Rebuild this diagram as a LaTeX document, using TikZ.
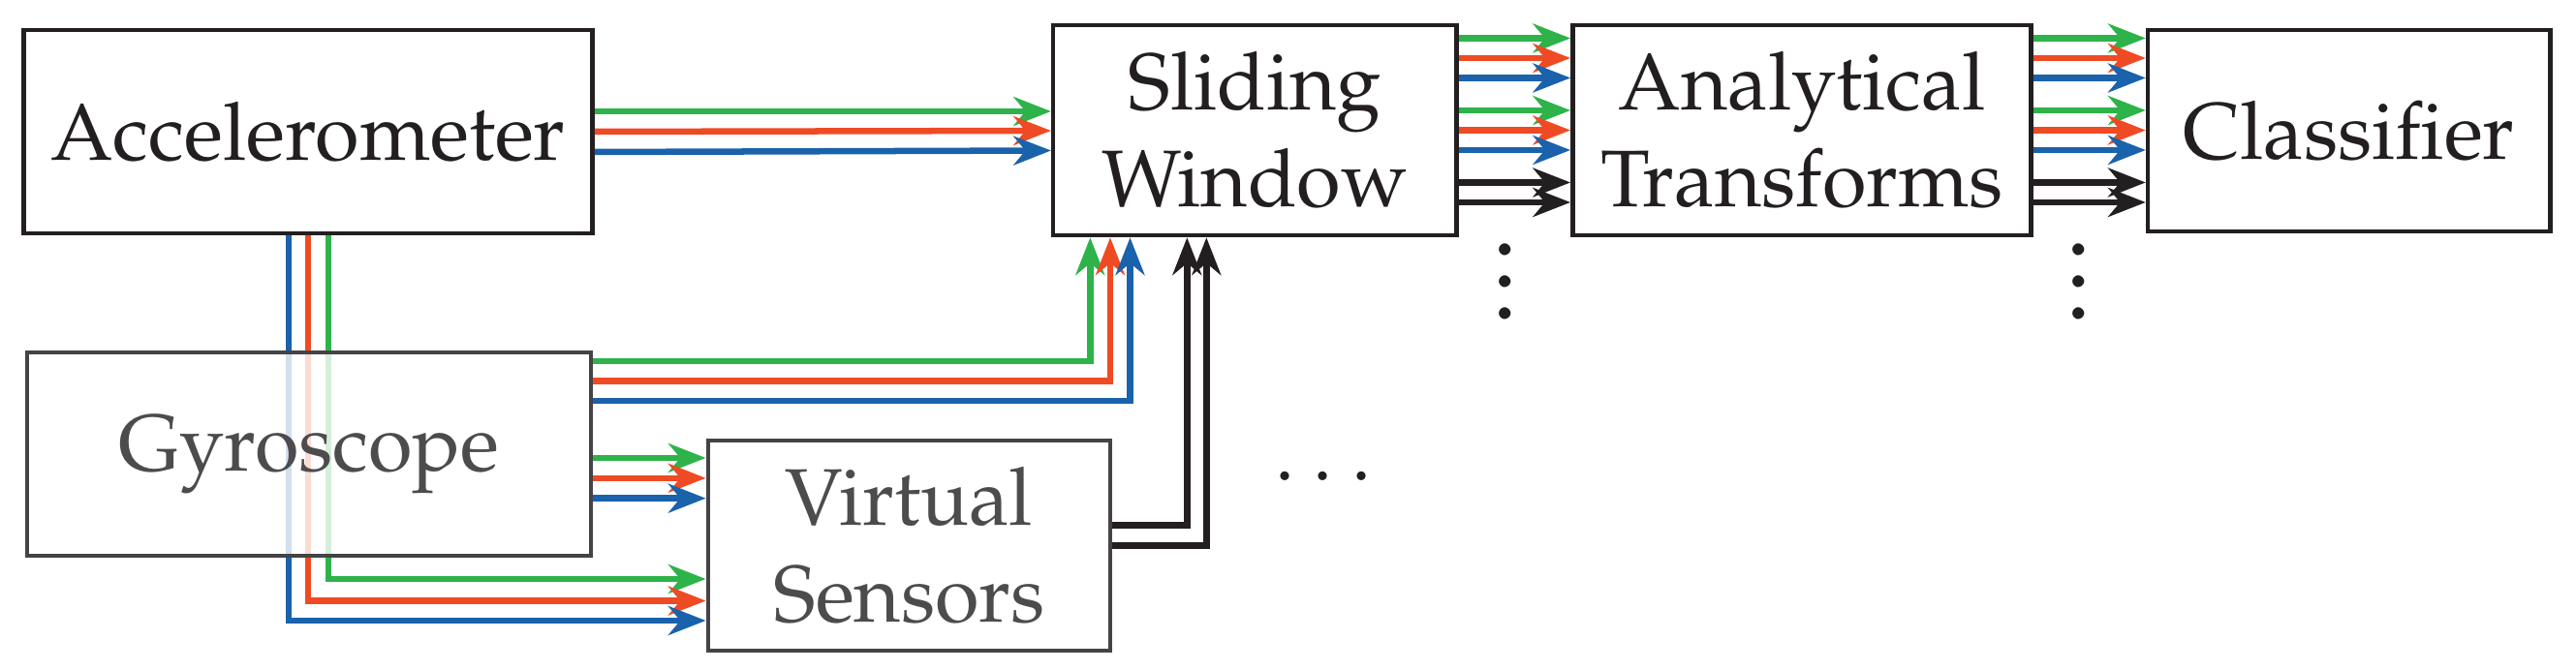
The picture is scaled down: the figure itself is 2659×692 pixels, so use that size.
\documentclass[tikz,border=0pt]{standalone}
\usepackage[T1]{fontenc}
\usepackage{mathpazo}
\usetikzlibrary{arrows.meta,calc}
\definecolor{cg}{HTML}{2DB34A}
\definecolor{cr}{HTML}{EE4B24}
\definecolor{cb}{HTML}{1A62AB}
\definecolor{ck}{HTML}{231F20}
\definecolor{cgy}{HTML}{454345}
\definecolor{cgt}{HTML}{4D4B4D}
\begin{document}
\begin{tikzpicture}[x=0.01cm,y=-0.01cm,
  box/.style={draw=ck,line width=1.3pt,fill=white,inner sep=0pt,align=center,
    font=\fontsize{23.6}{28.5}\selectfont,text=ck},
  gbox/.style={box,draw=cgy,text=cgt,fill opacity=0.8,text opacity=1},
  ln/.style={line width=1.85pt},
  ar/.style={ln,-{Stealth[length=11pt,width=8.5pt,inset=3.5pt]}},
  dt/.style={font=\fontsize{23.6}{28.5}\selectfont,text=ck,inner sep=0pt},
  vdt/.style={align=center,font=\fontsize{30}{9.4}\selectfont,text=ck,inner sep=0pt}]
\useasboundingbox (0,0) rectangle (2659,692);
\node[box,minimum width=5.87cm,minimum height=2.10cm] (acc) at (318,136) {Accelerometer};
\node[box,minimum width=4.16cm,minimum height=2.17cm] (sw) at (1295.3,134.5) {Sliding\\Window};
\node[box,minimum width=4.73cm,minimum height=2.17cm] (at) at (1860,134.5) {Analytical\\Transforms};
\node[box,minimum width=4.15cm,minimum height=2.08cm] (cl) at (2424.7,135) {Classifier};
% accelerometer -> sliding window
\draw[ar,cg] ($(acc.east)+(0,-21)$) -- ($(sw.west)+(0,-19.5)$);
\draw[ar,cr] ($(acc.east)+(0,0)$) -- ($(sw.west)+(0,0.5)$);
\draw[ar,cb] ($(acc.east)+(0,21)$) -- ($(sw.west)+(0,21)$);
% accelerometer down -> virtual sensors (drawn before gyroscope box)
\node[gbox,minimum width=4.15cm,minimum height=2.17cm] (vs) at (938.5,563.5) {Virtual\\Sensors};
\coordinate (a1) at ($(vs.west)+(0,34.5)$);
\coordinate (a2) at ($(vs.west)+(0,57)$);
\coordinate (a3) at ($(vs.west)+(0,77.5)$);
\draw[ar,cg] ($(acc.south)+(21,0)$) |- (a1);
\draw[ar,cr] ($(acc.south)+(0,0)$) |- (a2);
\draw[ar,cb] ($(acc.south)+(-20.2,0)$) |- (a3);
\node[gbox,minimum width=5.82cm,minimum height=2.10cm] (gyr) at (319,469) {Gyroscope};
% gyroscope -> sliding window
\draw[ar,cg] ($(gyr.east)+(0,-96.2)$) -| ($(sw.south)+(-170,0)$);
\draw[ar,cr] ($(gyr.east)+(0,-75.7)$) -| ($(sw.south)+(-149.3,0)$);
\draw[ar,cb] ($(gyr.east)+(0,-55.2)$) -| ($(sw.south)+(-128.8,0)$);
% gyroscope -> virtual sensors
\coordinate (g1) at ($(vs.west)+(0,-90.5)$);
\coordinate (g2) at ($(vs.west)+(0,-69.7)$);
\coordinate (g3) at ($(vs.west)+(0,-48.8)$);
\draw[ar,cg] (gyr.east |- g1) -- (g1);
\draw[ar,cr] (gyr.east |- g2) -- (g2);
\draw[ar,cb] (gyr.east |- g3) -- (g3);
% virtual sensors -> sliding window
\draw[ar,ck] ($(vs.east)+(0,-21.2)$) -| ($(sw.south)+(-70,0)$);
\draw[ar,ck] ($(vs.east)+(0,0)$) -| ($(sw.south)+(-50,0)$);
% sliding window -> analytical, analytical -> classifier
\foreach \o/\c in {-95/cg,-74.5/cr,-54/cb,-20.5/cg,0/cr,20.5/cb,54/ck,74.5/ck}{
  \draw[ar,\c] ($(sw.east)+(0,\o)$) -- ($(at.west)+(0,\o)$);
  \draw[ar,\c] ($(at.east)+(0,\o)$) -- (cl.west |- {$(at.east)+(0,\o)$});
}
\node[vdt,anchor=base] (d1) at (1553.6,330) {.\\.\\.};
\node[vdt,anchor=base] (d2) at (2146,330) {.\\.\\.};
\node[dt] (d3) at (1366,494) {$\cdots$};
\end{tikzpicture}
\end{document}
